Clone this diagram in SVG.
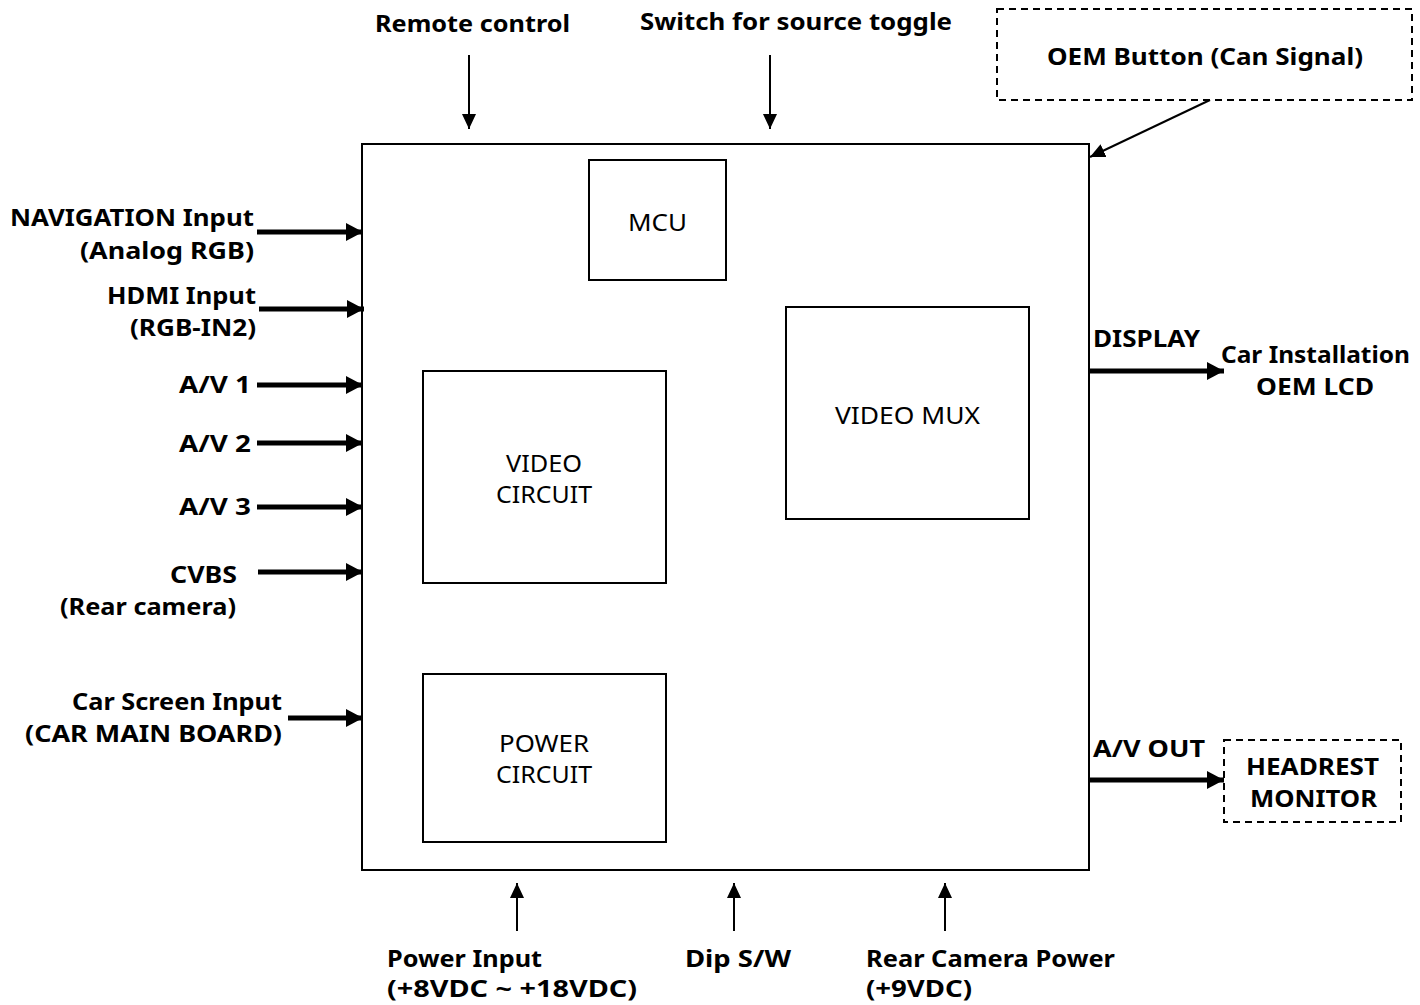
<svg xmlns="http://www.w3.org/2000/svg" width="1420" height="1005" viewBox="0 0 1420 1005">
<style>
.lbl{font-family:"Noto Sans","Open Sans","Liberation Sans",sans-serif;font-weight:bold;font-size:23px;fill:#000}
.in{font-family:"Noto Sans","Open Sans","Liberation Sans",sans-serif;font-size:24px;fill:#000}
.box{fill:#fff;stroke:#000;stroke-width:2}
.dash{fill:#fff;stroke:#000;stroke-width:2;stroke-dasharray:7,5}
.thin{stroke:#000;stroke-width:2;fill:none}
.thick{stroke:#000;stroke-width:5;fill:none}
</style>
<defs>
<marker id="ah" markerUnits="userSpaceOnUse" markerWidth="15" markerHeight="14" refX="15" refY="7" orient="auto"><path d="M0,0 L15,7 L0,14 Z" fill="#000"/></marker>
<marker id="ahb" markerUnits="userSpaceOnUse" markerWidth="17" markerHeight="18" refX="17" refY="9" orient="auto"><path d="M0,0 L17,9 L0,18 Z" fill="#000"/></marker>
</defs>
<rect width="1420" height="1005" fill="#fff"/>
<g id="main"><rect class="box" x="362" y="144" width="727" height="726"/></g>
<g id="mcu"><rect class="box" x="589" y="160" width="137" height="120"/><text class="in" x="628" y="231" textLength="59" lengthAdjust="spacingAndGlyphs">MCU</text></g>
<g id="videomux"><rect class="box" x="786" y="307" width="243" height="212"/><text class="in" x="835" y="424" textLength="145" lengthAdjust="spacingAndGlyphs">VIDEO MUX</text></g>
<g id="videocircuit"><rect class="box" x="423" y="371" width="243" height="212"/><text class="in" x="506" y="472" textLength="76" lengthAdjust="spacingAndGlyphs">VIDEO</text><text class="in" x="496" y="503" textLength="96" lengthAdjust="spacingAndGlyphs">CIRCUIT</text></g>
<g id="powercircuit"><rect class="box" x="423" y="674" width="243" height="168"/><text class="in" x="499" y="752" textLength="90" lengthAdjust="spacingAndGlyphs">POWER</text><text class="in" x="496" y="783" textLength="96" lengthAdjust="spacingAndGlyphs">CIRCUIT</text></g>
<g id="oem"><rect class="dash" x="997" y="9" width="415" height="91"/><text class="lbl" x="1047" y="65" textLength="316" lengthAdjust="spacingAndGlyphs">OEM Button (Can Signal)</text></g>
<g id="headrest"><rect class="dash" x="1224" y="740" width="177" height="82"/><text class="lbl" x="1246" y="775" textLength="133" lengthAdjust="spacingAndGlyphs">HEADREST</text><text class="lbl" x="1250" y="807" textLength="127" lengthAdjust="spacingAndGlyphs">MONITOR</text></g>
<g id="labels">
<text class="lbl" x="375" y="32" textLength="195" lengthAdjust="spacingAndGlyphs">Remote control</text>
<text class="lbl" x="640" y="30" textLength="312" lengthAdjust="spacingAndGlyphs">Switch for source toggle</text>
<text class="lbl" x="10" y="226" textLength="244" lengthAdjust="spacingAndGlyphs">NAVIGATION Input</text>
<text class="lbl" x="80" y="259" textLength="174" lengthAdjust="spacingAndGlyphs">(Analog RGB)</text>
<text class="lbl" x="107" y="304" textLength="149" lengthAdjust="spacingAndGlyphs">HDMI Input</text>
<text class="lbl" x="130" y="336" textLength="126" lengthAdjust="spacingAndGlyphs">(RGB-IN2)</text>
<text class="lbl" x="179" y="393" textLength="72" lengthAdjust="spacingAndGlyphs">A/V 1</text>
<text class="lbl" x="179" y="452" textLength="72" lengthAdjust="spacingAndGlyphs">A/V 2</text>
<text class="lbl" x="179" y="515" textLength="72" lengthAdjust="spacingAndGlyphs">A/V 3</text>
<text class="lbl" x="170" y="583" textLength="67" lengthAdjust="spacingAndGlyphs">CVBS</text>
<text class="lbl" x="60" y="615" textLength="176" lengthAdjust="spacingAndGlyphs">(Rear camera)</text>
<text class="lbl" x="72" y="710" textLength="210" lengthAdjust="spacingAndGlyphs">Car Screen Input</text>
<text class="lbl" x="25" y="742" textLength="257" lengthAdjust="spacingAndGlyphs">(CAR MAIN BOARD)</text>
<text class="lbl" x="1093" y="347" textLength="107" lengthAdjust="spacingAndGlyphs">DISPLAY</text>
<text class="lbl" x="1221" y="363" textLength="189" lengthAdjust="spacingAndGlyphs">Car Installation</text>
<text class="lbl" x="1256" y="395" textLength="118" lengthAdjust="spacingAndGlyphs">OEM LCD</text>
<text class="lbl" x="1093" y="757" textLength="112" lengthAdjust="spacingAndGlyphs">A/V OUT</text>
<text class="lbl" x="387" y="967" textLength="155" lengthAdjust="spacingAndGlyphs">Power Input</text>
<text class="lbl" x="387" y="997" textLength="250" lengthAdjust="spacingAndGlyphs">(+8VDC ~ +18VDC)</text>
<text class="lbl" x="685" y="967" textLength="106" lengthAdjust="spacingAndGlyphs">Dip S/W</text>
<text class="lbl" x="866" y="967" textLength="249" lengthAdjust="spacingAndGlyphs">Rear Camera Power</text>
<text class="lbl" x="866" y="997" textLength="106" lengthAdjust="spacingAndGlyphs">(+9VDC)</text>
</g>
<g id="connectors">
<line class="thin" x1="469" y1="55" x2="469" y2="129" marker-end="url(#ah)"/>
<line class="thin" x1="770" y1="55" x2="770" y2="129" marker-end="url(#ah)"/>
<line class="thin" x1="1210" y1="100" x2="1090" y2="157" marker-end="url(#ah)"/>
<line class="thick" x1="257" y1="232" x2="363" y2="232" marker-end="url(#ahb)"/>
<line class="thick" x1="259" y1="309" x2="364" y2="309" marker-end="url(#ahb)"/>
<line class="thick" x1="257" y1="385" x2="363" y2="385" marker-end="url(#ahb)"/>
<line class="thick" x1="257" y1="443" x2="363" y2="443" marker-end="url(#ahb)"/>
<line class="thick" x1="257" y1="507" x2="363" y2="507" marker-end="url(#ahb)"/>
<line class="thick" x1="258" y1="572" x2="363" y2="572" marker-end="url(#ahb)"/>
<line class="thick" x1="288" y1="718" x2="363" y2="718" marker-end="url(#ahb)"/>
<line class="thick" x1="1089" y1="371" x2="1224" y2="371" marker-end="url(#ahb)"/>
<line class="thick" x1="1089" y1="780" x2="1224" y2="780" marker-end="url(#ahb)"/>
<line class="thin" x1="517" y1="931" x2="517" y2="883" marker-end="url(#ah)"/>
<line class="thin" x1="734" y1="931" x2="734" y2="883" marker-end="url(#ah)"/>
<line class="thin" x1="945" y1="931" x2="945" y2="883" marker-end="url(#ah)"/>
</g>
</svg>
